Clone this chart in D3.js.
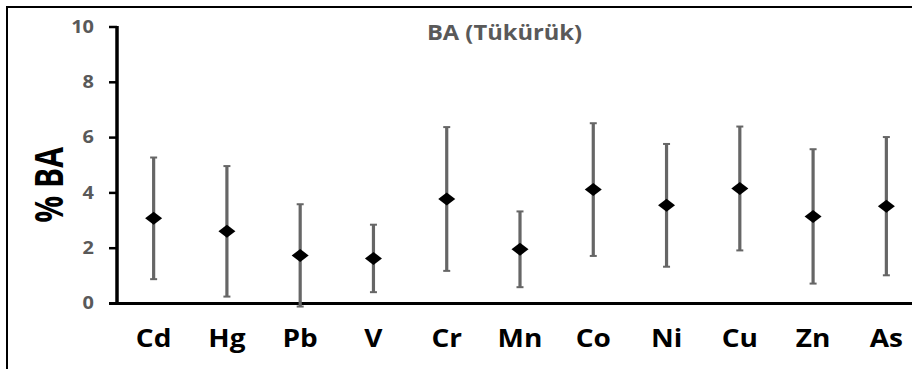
<!DOCTYPE html>
<html>
<head>
<meta charset="utf-8">
<script src="https://cdn.jsdelivr.net/npm/d3@7/dist/d3.min.js"></script>
<style>
  html, body { margin: 0; padding: 0; background: #fff; }
  svg { display: block; }
  text { font-family: "Open Sans", "DejaVu Sans", sans-serif; font-weight: 700; }
</style>
</head>
<body>
<svg id="chart" width="912" height="369"></svg>
<script>
// Bioaccessibility (%) in saliva, mean ± error per element
const categories = ["Cd", "Hg", "Pb", "V", "Cr", "Mn", "Co", "Ni", "Cu", "Zn", "As"];
const means      = [3.08, 2.61, 1.74, 1.63, 3.78, 1.96, 4.12, 3.55, 4.16, 3.15, 3.52];
const errors     = [2.20, 2.36, 1.85, 1.22, 2.60, 1.37, 2.40, 2.22, 2.24, 2.43, 2.50];
const yTicks     = [0, 2, 4, 6, 8, 10];
const titleText  = "BA (Tükürük)";
const yLabelText = "% BA";

const rows = categories.map((c, i) => ({ cat: c, mean: means[i], err: errors[i] }));

const svg = d3.select("#chart");

// outer frame
svg.append("rect")
  .attr("x", 7).attr("y", 7)
  .attr("width", 1000).attr("height", 500)
  .attr("fill", "none").attr("stroke", "#000").attr("stroke-width", 2);

const x = d3.scaleBand().domain(categories).range([117, 923]);
const y = d3.scaleLinear().domain([0, 10]).range([303.5, 27]);

// title
svg.append("text")
  .attr("transform", "translate(504.5,39.5) scale(1.13,1)")
  .attr("text-anchor", "middle")
  .attr("font-size", 21)
  .attr("fill", "#595959")
  .text(titleText);

// y axis line + ticks
svg.append("line")
  .attr("x1", 117).attr("x2", 117)
  .attr("y1", y(10) - 1).attr("y2", y(0) + 1.5)
  .attr("stroke", "#000").attr("stroke-width", 3.5);

svg.selectAll(".ytick").data(yTicks).enter().append("line")
  .attr("x1", 109).attr("x2", 117)
  .attr("y1", d => y(d)).attr("y2", d => y(d))
  .attr("stroke", "#000").attr("stroke-width", 2.5);

svg.selectAll(".ylab").data(yTicks).enter().append("text")
  .attr("transform", d => `translate(94,${y(d) + 5.8}) scale(1.14,1)`)
  .attr("text-anchor", "end")
  .attr("font-size", 17.5)
  .attr("fill", "#595959")
  .text(d => d);

// x axis line
svg.append("line")
  .attr("x1", 109).attr("x2", 912)
  .attr("y1", y(0)).attr("y2", y(0))
  .attr("stroke", "#000").attr("stroke-width", 3);

// category labels
svg.selectAll(".xlab").data(categories).enter().append("text")
  .attr("transform", d => `translate(${x(d) + x.bandwidth() / 2},347) scale(1.12,1)`)
  .attr("text-anchor", "middle")
  .attr("font-size", 25)
  .attr("fill", "#000")
  .text(d => d);

// y axis title
svg.append("text")
  .attr("transform", "translate(63,185) rotate(-90) scale(1,1.3)")
  .attr("text-anchor", "middle")
  .attr("font-size", 30)
  .attr("fill", "#000")
  .text(yLabelText);

// error bars
const cx = d => x(d.cat) + x.bandwidth() / 2;
const bars = svg.append("g").attr("stroke", "#666666");
bars.selectAll(".stem").data(rows).enter().append("line")
  .attr("x1", cx).attr("x2", cx)
  .attr("y1", d => y(d.mean + d.err)).attr("y2", d => y(d.mean - d.err))
  .attr("stroke-width", 3.2);
bars.selectAll(".capTop").data(rows).enter().append("line")
  .attr("x1", d => cx(d) - 3.5).attr("x2", d => cx(d) + 3.5)
  .attr("y1", d => y(d.mean + d.err)).attr("y2", d => y(d.mean + d.err))
  .attr("stroke-width", 2);
bars.selectAll(".capBot").data(rows).enter().append("line")
  .attr("x1", d => cx(d) - 3.5).attr("x2", d => cx(d) + 3.5)
  .attr("y1", d => y(d.mean - d.err)).attr("y2", d => y(d.mean - d.err))
  .attr("stroke-width", 2);

// diamond markers at the means
const hw = 8.5, hh = 6.5;
svg.selectAll(".marker").data(rows).enter().append("path")
  .attr("d", d => {
    const px = cx(d), py = y(d.mean);
    return `M${px},${py - hh}L${px + hw},${py}L${px},${py + hh}L${px - hw},${py}Z`;
  })
  .attr("fill", "#000");
</script>
</body>
</html>
